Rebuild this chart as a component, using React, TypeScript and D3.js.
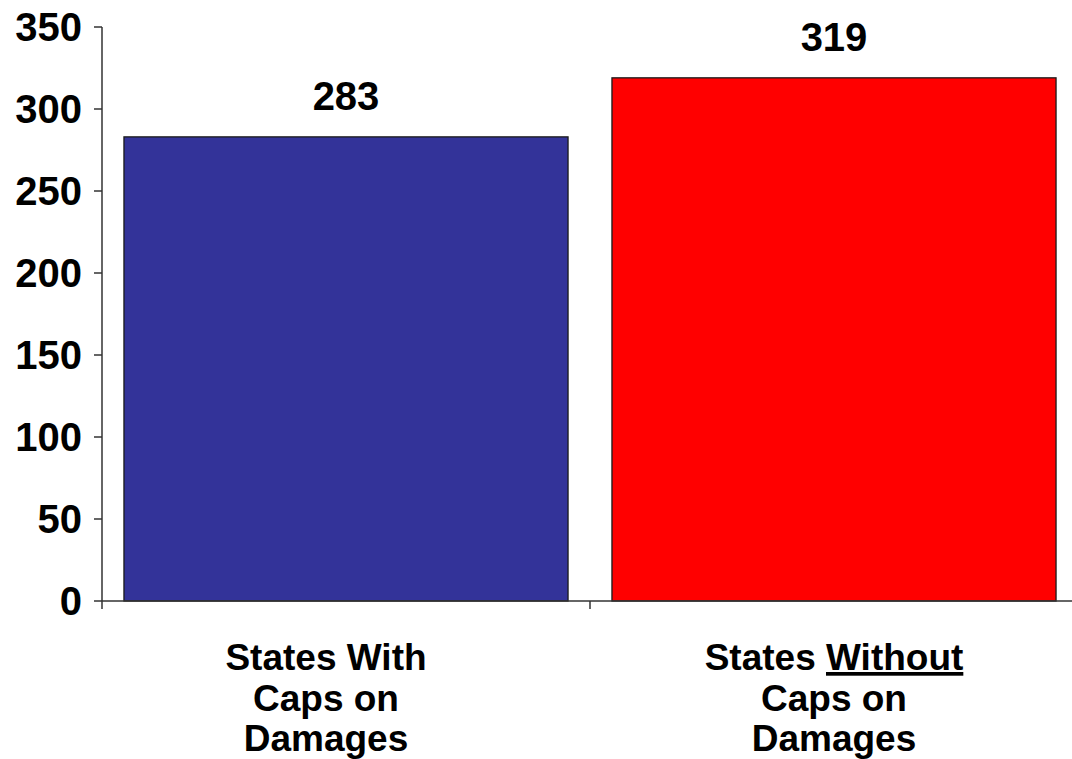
import * as d3 from 'd3'

const categories = ['with', 'without']
const values = [283, 319]
const barColors = ['#333399', '#ff0000']
// label lines, [before, underlined, after]
const labelLines: [string, string, string][][] = [
  [['States With', '', ''], ['Caps on', '', ''], ['Damages', '', '']],
  [['States ', 'Without', ''], ['Caps on', '', ''], ['Damages', '', '']],
]
const yTicks = [0, 50, 100, 150, 200, 250, 300, 350]

const W = 1072
const H = 759
const FONT = 'Arial, "Liberation Sans", Helvetica, sans-serif'

export default function App() {
  const x = d3
    .scaleBand<string>()
    .domain(categories)
    .range([102, 1078])
    .paddingInner(0.09)
    .paddingOuter(0.045)
  const y = d3.scaleLinear().domain([0, 350]).range([601, 27])
  const step = x.step()
  const x0 = x.range()[0]

  return (
    <svg
      width={W}
      height={H}
      style={{ position: 'absolute', left: 0, top: 0, background: '#fff' }}
      fontFamily={FONT}
      fontWeight="bold"
    >
      {/* bars */}
      {categories.map((c, i) => (
        <rect
          key={c}
          x={x(c)}
          y={y(values[i])}
          width={x.bandwidth()}
          height={y(0) - y(values[i])}
          fill={barColors[i]}
          stroke="#1a1a1a"
          strokeWidth={1.3}
        />
      ))}

      {/* value labels */}
      {categories.map((c, i) => (
        <text
          key={c}
          x={(x(c) ?? 0) + x.bandwidth() / 2}
          y={y(values[i]) - 27}
          textAnchor="middle"
          fontSize={40}
          fill="#000"
        >
          {values[i]}
        </text>
      ))}

      {/* y axis */}
      <line x1={x0} x2={x0} y1={y(350)} y2={y(0) + 8} stroke="#333" strokeWidth={1.5} />
      {yTicks.map((t) => (
        <g key={t}>
          <line x1={x0 - 8} x2={x0} y1={y(t)} y2={y(t)} stroke="#333" strokeWidth={1.5} />
          <text
            x={x0 - 20}
            y={y(t)}
            dy="0.36em"
            textAnchor="end"
            fontSize={40}
            fill="#000"
          >
            {t}
          </text>
        </g>
      ))}

      {/* x axis */}
      <line x1={x0} x2={W} y1={y(0)} y2={y(0)} stroke="#333" strokeWidth={1.5} />
      {categories.map((c, i) => (
        <line
          key={c}
          x1={x0 + step * (i + 1)}
          x2={x0 + step * (i + 1)}
          y1={y(0)}
          y2={y(0) + 8}
          stroke="#333"
          strokeWidth={1.5}
        />
      ))}

      {/* category labels */}
      {categories.map((c, i) => {
        const cx = (x(c) ?? 0) + x.bandwidth() / 2 + (i === 0 ? -20 : 0)
        return (
          <text key={c} textAnchor="middle" fontSize={37} fill="#000">
            {labelLines[i].map((ln, j) => (
              <tspan key={j} x={cx} y={670 + j * 40.5}>
                {ln[0]}
                {ln[1] && <tspan textDecoration="underline">{ln[1]}</tspan>}
                {ln[2]}
              </tspan>
            ))}
          </text>
        )
      })}
    </svg>
  )
}
